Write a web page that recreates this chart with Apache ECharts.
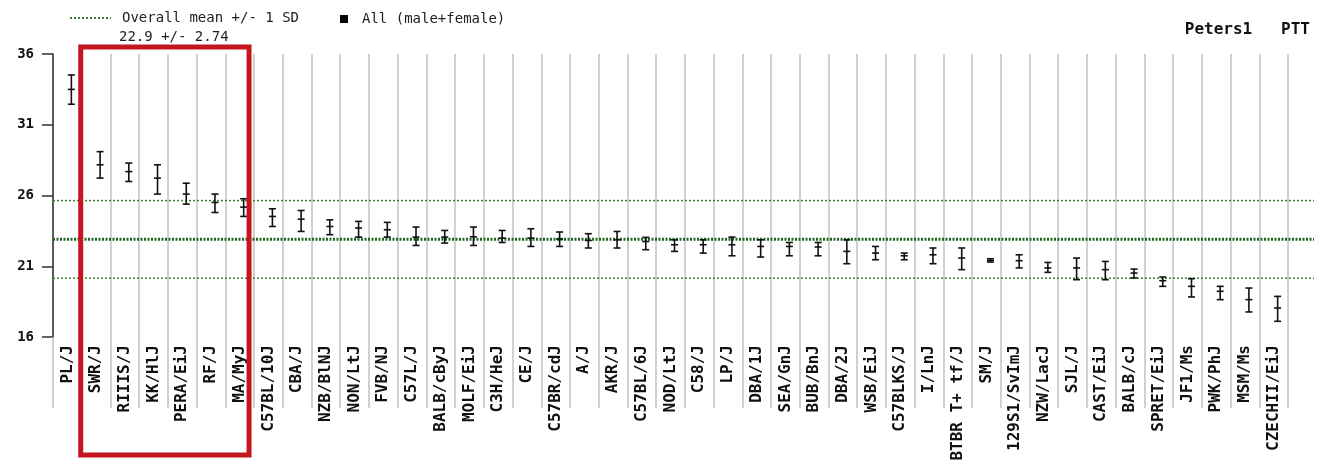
<!DOCTYPE html>
<html><head><meta charset="utf-8">
<script src="https://cdn.jsdelivr.net/npm/echarts@6/dist/echarts.min.js"></script>
<style>html,body{margin:0;padding:0;background:#fff}#c{width:1320px;height:465px}</style>
</head><body><div id="c"></div>
<script>
// ---- data ----
const categories = ['PL/J','SWR/J','RIIIS/J','KK/HlJ','PERA/EiJ','RF/J','MA/MyJ','C57BL/10J','CBA/J','NZB/BlNJ',
  'NON/LtJ','FVB/NJ','C57L/J','BALB/cByJ','MOLF/EiJ','C3H/HeJ','CE/J','C57BR/cdJ','A/J','AKR/J',
  'C57BL/6J','NOD/LtJ','C58/J','LP/J','DBA/1J','SEA/GnJ','BUB/BnJ','DBA/2J','WSB/EiJ','C57BLKS/J',
  'I/LnJ','BTBR T+ tf/J','SM/J','129S1/SvImJ','NZW/LacJ','SJL/J','CAST/EiJ','BALB/cJ','SPRET/EiJ','JF1/Ms',
  'PWK/PhJ','MSM/Ms','CZECHII/EiJ'];
const means = [33.5,28.17,27.69,27.23,26.1,25.51,25.18,24.52,24.33,23.81,
  23.7,23.58,23.06,23.06,23.08,22.99,22.99,22.92,22.82,22.87,
  22.75,22.52,22.52,22.52,22.4,22.4,22.36,22.05,21.93,21.74,
  21.81,21.58,21.41,21.39,20.88,20.88,20.76,20.52,19.98,19.58,
  19.23,18.64,18.05];
const lows = [32.45,27.23,26.99,26.1,25.39,24.8,24.52,23.81,23.46,23.23,
  23.06,23.06,22.47,22.64,22.47,22.68,22.4,22.4,22.29,22.29,
  22.17,22.05,21.93,21.74,21.65,21.74,21.74,21.18,21.46,21.46,
  21.18,20.76,21.3,20.88,20.57,20.05,20.05,20.17,19.58,18.83,
  18.64,17.77,17.11];
const highs = [34.52,29.1,28.29,28.17,26.87,26.1,25.77,25.06,24.94,24.28,
  24.17,24.1,23.77,23.53,23.77,23.53,23.65,23.42,23.3,23.46,
  23.04,22.87,22.87,23.06,22.87,22.68,22.68,22.87,22.4,21.93,
  22.29,22.29,21.53,21.81,21.27,21.58,21.34,20.8,20.24,20.12,
  19.58,19.46,18.87];
const yTicks = [16,21,26,31,36];
const overallMean = 22.9;
const overallSD = 2.74;
const highlighted = ['SWR/J','MA/MyJ'];

// ---- chart ----
const MONO = '"DejaVu Sans Mono", "Liberation Mono", monospace';
const chart = echarts.init(document.getElementById('c'), null, {renderer:'canvas'});
const yMin = yTicks[0], yMax = yTicks[yTicks.length-1], yStep = yTicks[1]-yTicks[0];
const dx = 4;

const errData = categories.map((c,i)=>[i, means[i], lows[i], highs[i]]);
function refLine(v){ return [[0,v],[1,v]]; }

chart.setOption({
  animation:false,
  backgroundColor:'#fff',
  title:[
    {text: overallMean + ' +/- ' + overallSD, left:119, top:30, padding:0,
     textStyle:{fontFamily:MONO, fontSize:14, fontWeight:'normal', color:'#222'}},
    {text:'Peters1   PTT', right:10, top:22, padding:0,
     textStyle:{fontFamily:MONO, fontSize:16, fontWeight:'bold', color:'#111'}}
  ],
  legend:[
    {data:['Overall mean +/- 1 SD'], left:69, top:11, padding:0, itemWidth:41, itemHeight:10,
     itemStyle:{opacity:0},
     selectedMode:false, textStyle:{fontFamily:MONO, fontSize:14, color:'#222', padding:[0,0,0,6]}},
    {data:[{name:'All (male+female)', icon:'rect'}], left:340, top:12, padding:0, itemWidth:8, itemHeight:8,
     selectedMode:false, textStyle:{fontFamily:MONO, fontSize:14, color:'#222', padding:[0,0,0,9]}}
  ],
  grid:[
    {left:53, right:32, top:54, bottom:128},
    {left:53, right:6, top:54, bottom:128}
  ],
  xAxis:[
    {type:'category', gridIndex:0, data:categories, boundaryGap:true,
     axisLine:{show:false},
     axisTick:{show:true, alignWithLabel:false, length:71, lineStyle:{color:'#c2c2c2', width:1.5}},
     splitLine:{show:true, lineStyle:{color:'#c2c2c2', width:1.5}},
     axisLabel:{rotate:90, interval:0, margin:8, fontFamily:MONO, fontSize:16, fontWeight:'bold', color:'#111'}},
    {type:'value', gridIndex:1, min:0, max:1, show:false}
  ],
  yAxis:[
    {type:'value', gridIndex:0, min:yMin, max:yMax, interval:yStep,
     axisLine:{show:true, lineStyle:{color:'#333', width:1.5}},
     axisTick:{show:true, length:11, lineStyle:{color:'#333', width:1.5}},
     splitLine:{show:false},
     axisLabel:{margin:19, fontFamily:MONO, fontSize:14, fontWeight:'bold', color:'#111'}},
    {type:'value', gridIndex:1, min:yMin, max:yMax, show:false}
  ],
  series:[
    {name:'Overall mean +/- 1 SD', type:'line', xAxisIndex:1, yAxisIndex:1, symbol:'none', silent:true, z:1,
     data:refLine(overallMean + overallSD), lineStyle:{color:'#3b7a3b', width:1.5, type:[2,2]}},
    {name:'Overall mean +/- 1 SD', type:'line', xAxisIndex:1, yAxisIndex:1, symbol:'none', silent:true, z:1,
     data:refLine(overallMean - overallSD), lineStyle:{color:'#3b7a3b', width:1.5, type:[2,2]}},
    {name:'Overall mean +/- 1 SD', type:'line', xAxisIndex:1, yAxisIndex:1, symbol:'none', silent:true, z:1,
     data:refLine(overallMean), lineStyle:{color:'#1f651f', width:3, type:[2,1.5]}},
    {name:'All (male+female)', type:'custom', xAxisIndex:0, yAxisIndex:0, z:5,
     itemStyle:{color:'#000'},
     data:errData,
     encode:{x:0, y:[1,2,3]},
     renderItem:function(params, api){
       const i = api.value(0);
       const pm = api.coord([i, api.value(1)]);
       const pl = api.coord([i, api.value(2)]);
       const ph = api.coord([i, api.value(3)]);
       const x = pm[0] + dx, hw = 3.5;
       const st = {stroke:'#111', lineWidth:1.6};
       return {type:'group', children:[
         {type:'line', shape:{x1:x, y1:ph[1], x2:x, y2:pl[1]}, style:st},
         {type:'line', shape:{x1:x-hw, y1:ph[1], x2:x+hw, y2:ph[1]}, style:st},
         {type:'line', shape:{x1:x-hw, y1:pl[1], x2:x+hw, y2:pl[1]}, style:st},
         {type:'line', shape:{x1:x-hw, y1:pm[1], x2:x+hw, y2:pm[1]}, style:st}
       ]};
     }}
  ]
});

// red highlight box around the selected strains (positions from the axis scale)
const xa = chart.convertToPixel({xAxisIndex:0}, highlighted[0]);
const xb = chart.convertToPixel({xAxisIndex:0}, highlighted[1]);
const i0 = categories.indexOf(highlighted[0]), i1 = categories.indexOf(highlighted[1]);
const step = (xb - xa) / (i1 - i0);
chart.setOption({
  graphic:[{type:'rect', z:10, silent:true,
    shape:{x:xa - step/2 - 1, y:47, width:(xb - xa) + step - 4, height:408},
    style:{fill:null, stroke:'#c4161c', lineWidth:5}}]
});
</script>
</body></html>
